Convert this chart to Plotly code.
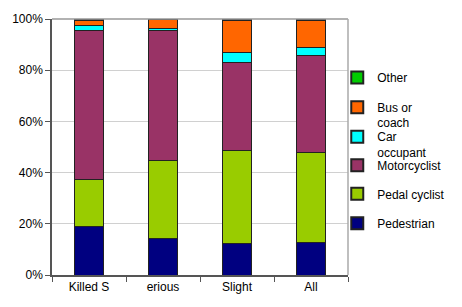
import plotly.graph_objects as go

categories = ["Killed S", "erious", "Slight", "All"]
series_names = ["Pedestrian", "Pedal cyclist", "Motorcyclist", "Car<br>occupant", "Bus or<br>coach", "Other"]
pedestrian = [19.0, 14.2, 12.3, 12.7]
pedal_cyclist = [18.5, 30.4, 36.2, 35.0]
motorcyclist = [58.0, 50.8, 34.6, 38.2]
car_occupant = [1.8, 0.8, 3.7, 2.8]
bus_or_coach = [2.0, 3.5, 12.8, 10.9]
other = [0.7, 0.3, 0.4, 0.4]
y_ticks = [0, 20, 40, 60, 80, 100]
y_tick_labels = ["0%", "20%", "40%", "60%", "80%", "100%"]

values = [pedestrian, pedal_cyclist, motorcyclist, car_occupant, bus_or_coach, other]
colors = ["#000080", "#99CC00", "#993366", "#00FFFF", "#FF6600", "#00CC00"]
legend_py = [225, 195, 166, 137, 107, 77]  # pixel centre of each legend symbol

W, H = 462, 307
L, R, T, B = 50, 109, 15, 32
ph = H - T - B

fig = go.Figure()
layout_legends = {}
for i, (name, vals, col) in enumerate(zip(series_names, values, colors)):
    lname = "legend" if i == 0 else f"legend{i+1}"
    fig.add_trace(go.Bar(
        x=categories, y=vals, name=name,
        marker=dict(color=col, line=dict(color="#222222", width=1)),
        legend=lname, showlegend=True,
    ))
    ytop = (H - B - (legend_py[i] - 17)) / ph
    layout_legends[lname] = dict(
        x=(342 - L) / (W - L - R), xanchor="left",
        y=ytop, yanchor="top",
        valign="top",
        bgcolor="rgba(0,0,0,0)",
        font=dict(family="Liberation Sans, Arial", size=12, color="#000"),
        itemsizing="constant",
        visible=True,
    )

fig.update_layout(
    barmode="stack",
    bargap=0.6,
    showlegend=True,
    width=W, height=H,
    margin=dict(l=L, r=R, t=T, b=B),
    paper_bgcolor="white", plot_bgcolor="white",
    font=dict(family="Liberation Sans, Arial", size=12, color="#000"),
    xaxis=dict(
        showline=True, linecolor="#555555", linewidth=1.5,
        ticks="outside", tickson="boundaries", ticklen=5, tickcolor="#555555",
        showgrid=False, tickfont=dict(size=12),
    ),
    yaxis=dict(
        range=[0, 100], tickvals=y_ticks, ticktext=y_tick_labels,
        showline=True, linecolor="#555555", linewidth=1.5,
        ticks="outside", ticklen=5, tickcolor="#555555",
        showgrid=True, gridcolor="#D0D0D0", gridwidth=1,
        zeroline=False, tickfont=dict(size=12),
    ),
    shapes=[
        dict(type="line", xref="x domain", yref="y domain", x0=0, x1=1, y0=1, y1=1,
             line=dict(color="#999999", width=1.5)),
        dict(type="line", xref="x domain", yref="y domain", x0=1, x1=1, y0=0, y1=1,
             line=dict(color="#AAAAAA", width=1.5)),
    ],
    **layout_legends,
)

fig.write_html("out.html")
